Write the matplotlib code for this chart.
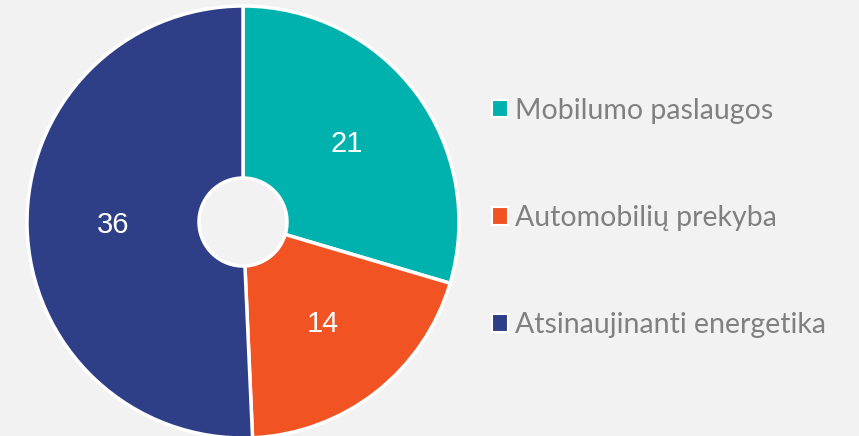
import matplotlib.pyplot as plt
from matplotlib.patches import Patch

plt.rcParams['font.family'] = ['Lato', 'DejaVu Sans']

categories = ["Mobilumo paslaugos", "Automobilių prekyba", "Atsinaujinanti energetika"]
values = [21, 14, 36]
colors = ["#00b2ae", "#f15323", "#2e3f87"]
bg = "#f2f2f2"

fig = plt.figure(figsize=(8.59, 4.36), dpi=100, facecolor=bg)
ax = fig.add_axes([27 / 859, -2 / 436, 432 / 859, 432 / 436])
ax.set_facecolor(bg)

wedges, texts, autotexts = ax.pie(
    values, colors=colors, startangle=90, counterclock=False,
    autopct=lambda p: "%d" % round(p * sum(values) / 100),
    pctdistance=0.6, radius=1.0,
    wedgeprops=dict(width=1 - 44 / 216, edgecolor="white", linewidth=2.5),
    textprops=dict(color="white", fontsize=21, family=['Liberation Sans']),
)
ax.set_xlim(-1.0, 1.0)
ax.set_ylim(-1.0, 1.0)
ax.set_aspect("equal")

handles = [Patch(facecolor=c, edgecolor="white", linewidth=1.5) for c in colors]
leg = fig.legend(handles, categories, loc="center left",
                 bbox_to_anchor=(478 / 859, 218 / 436),
                 frameon=False, fontsize=20.5, labelcolor="#808080",
                 handlelength=0.55, handleheight=0.55, handletextpad=0.25,
                 labelspacing=2.85, borderpad=0)

fig.savefig("out.png", dpi=100, facecolor=bg)
